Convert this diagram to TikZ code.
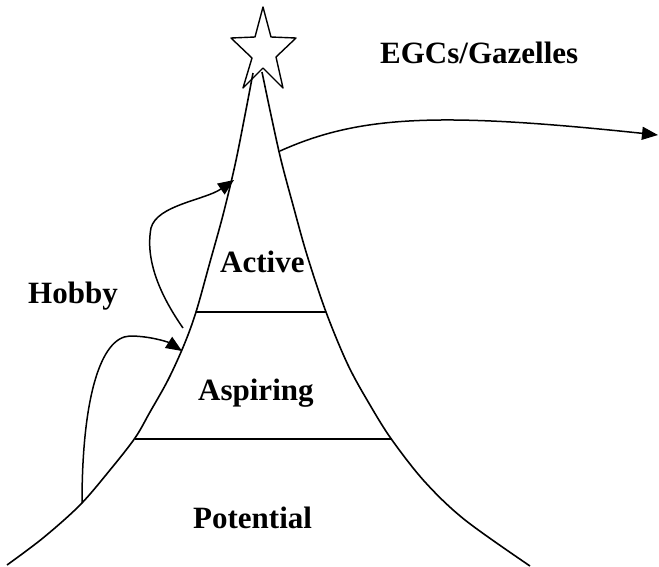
\documentclass[tikz,border=0pt]{standalone}
\usepackage{fontspec}
\setmainfont{Liberation Serif}
\usetikzlibrary{arrows.meta}
\tikzset{
  lbl/.style={font=\fontsize{31}{31}\selectfont\bfseries, inner sep=0pt, anchor=base west},
  edge/.style={line width=1.6pt, line join=round},
  arr/.style={line width=1.5pt, -{Triangle[length=16pt,width=13pt]}}
}
\begin{document}
\begin{tikzpicture}[x=1pt,y=-1pt]
\useasboundingbox (0,0) rectangle (659,566);
% star
\draw[edge, line width=1.4pt] (263,7) -- (271,37) -- (296,38) -- (276,57) -- (283,88) -- (263,68)
  -- (243,88) -- (252,58) -- (231,38) -- (255,37) -- cycle;
% mountain
\draw[edge] plot[smooth, tension=0.55] coordinates {(253,73) (245,115) (235,165) (223,215) (210,262) (196,312) (184,345) (168,380) (150,412) (135,438) (110,470) (80,505) (43,538) (7,565)};
\draw[edge] plot[smooth, tension=0.55] coordinates {(262,72) (271,115) (281,160) (293,205) (307,255) (326,312) (348,365) (370,405) (392,440) (425,482) (465,520) (530,566)};
% level lines
\coordinate (u1) at (196,312); \coordinate (u2) at (326,312);
\coordinate (l1) at (135,439); \coordinate (l2) at (392,439);
\draw[edge] (u1) -- (u2);
\draw[edge] (l1) -- (l2);
% arrows
\coordinate (h0) at (82,503);
\coordinate (h1) at (182,351);
\coordinate (a0) at (183,328);
\coordinate (a1) at (234,180);
\coordinate (g0) at (280,151);
\coordinate (g1) at (658,135);
\draw[arr] (h0) .. controls (82,400) and (100,337) .. (130,336) .. controls (150,336) and (168,342) .. (h1);
\draw[arr] (a0) .. controls (160,295) and (145,260) .. (151,228) .. controls (157,205) and (205,200) .. (a1);
\draw[arr] (g0) .. controls (360,115) and (440,112) .. (g1);
% labels
\node[lbl] (egc) at (380,63) {EGCs/Gazelles};
\node[lbl] (act) at (220,272) {Active};
\node[lbl] (hob) at (28,303) {Hobby};
\node[lbl] (asp) at (198,400) {Aspiring};
\node[lbl] (pot) at (193,528) {Potential};
\end{tikzpicture}
\end{document}
